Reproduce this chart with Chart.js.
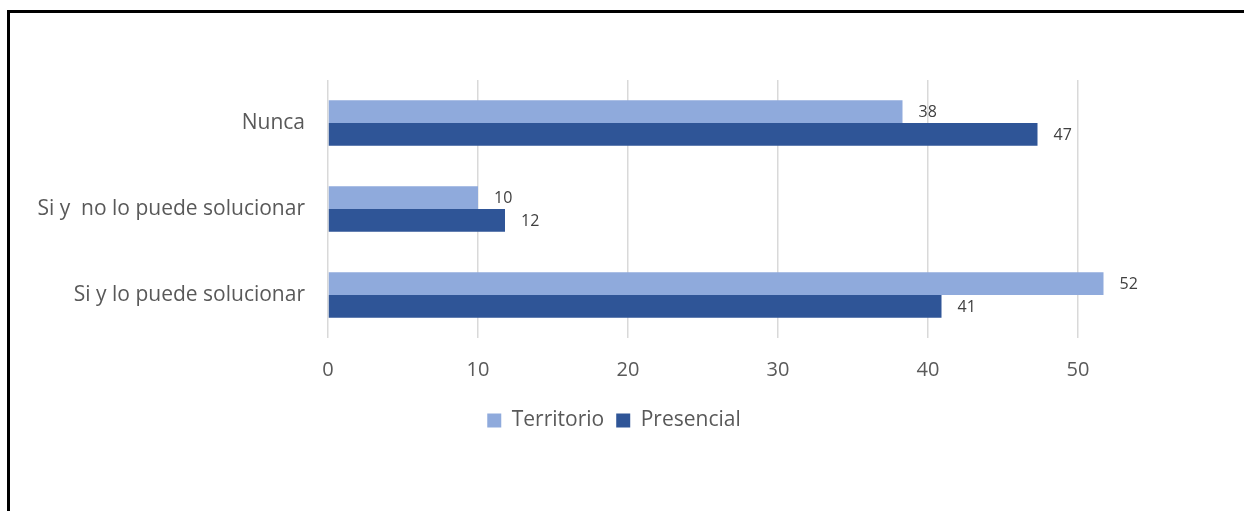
<!DOCTYPE html>
<html>
<head>
<meta charset="utf-8">
<script src="https://cdn.jsdelivr.net/npm/chart.js@4"></script>
<style>
  html, body { margin: 0; padding: 0; background: #fff; overflow: hidden; }
  #wrap { position: absolute; left: 0; top: 0; width: 1244px; height: 511px; }
  #frame { position: absolute; left: 7px; top: 10px; width: 1400px; height: 700px;
           border-left: 3px solid #000; border-top: 3px solid #000; }
  canvas { position: absolute; left: 0; top: 0; }
</style>
</head>
<body>
<div id="wrap">
  <div id="frame"></div>
  <canvas id="myChart" width="1244" height="511"></canvas>
</div>
<script>
const categorias = ['Nunca', 'Si y  no lo puede solucionar', 'Si y lo puede solucionar'];
const territorio = [38.3, 10.0, 51.7];
const presencial = [47.3, 11.8, 40.9];
const ticksX = [0, 10, 20, 30, 40, 50];

const fuente = "'Open Sans', 'Liberation Sans', sans-serif";

// etiquetas de valor al final de cada barra
const etiquetas = {
    id: 'etiquetas',
    afterDatasetsDraw(chart) {
        const c = chart.ctx;
        c.save();
        c.font = '16px ' + fuente;
        c.fillStyle = '#404040';
        c.textAlign = 'left';
        c.textBaseline = 'middle';
        chart.data.datasets.forEach((ds, i) => {
            chart.getDatasetMeta(i).data.forEach((bar, j) => {
                c.fillText(Math.round(ds.data[j]), bar.x + 16, bar.y + 1);
            });
        });
        c.restore();
    }
};

const ctx = document.getElementById('myChart');

new Chart(ctx, {
    type: 'bar',
    data: {
        labels: categorias,
        datasets: [{
            label: 'Territorio',
            data: territorio,
            backgroundColor: '#8FAADC',
            barPercentage: 1,
            categoryPercentage: 0.53
        }, {
            label: 'Presencial',
            data: presencial,
            backgroundColor: '#2F5597',
            barPercentage: 1,
            categoryPercentage: 0.53
        }]
    },
    options: {
        indexAxis: 'y',
        responsive: false,
        animation: false,
        layout: {
            padding: { top: 80, right: 16, bottom: 70, left: 0 }
        },
        scales: {
            x: {
                min: 0,
                max: 60,
                afterBuildTicks: s => { s.ticks = ticksX.map(v => ({ value: v })); },
                afterFit: s => { s.height = 60; },
                border: { display: false },
                grid: { color: '#D9D9D9', lineWidth: 1.5, drawTicks: false },
                ticks: {
                    padding: 20,
                    color: '#595959',
                    font: { family: fuente, size: 20 }
                }
            },
            y: {
                afterFit: s => { s.width = 328; },
                border: { display: false },
                grid: { display: false, drawTicks: false },
                ticks: {
                    padding: 23,
                    color: '#595959',
                    font: { family: fuente, size: 21 }
                }
            }
        },
        plugins: {
            legend: {
                position: 'bottom',
                labels: {
                    boxWidth: 14,
                    boxHeight: 14,
                    padding: 12,
                    color: '#595959',
                    font: { family: fuente, size: 21 }
                }
            },
            tooltip: { enabled: false }
        }
    },
    plugins: [etiquetas]
});
</script>
</body>
</html>
